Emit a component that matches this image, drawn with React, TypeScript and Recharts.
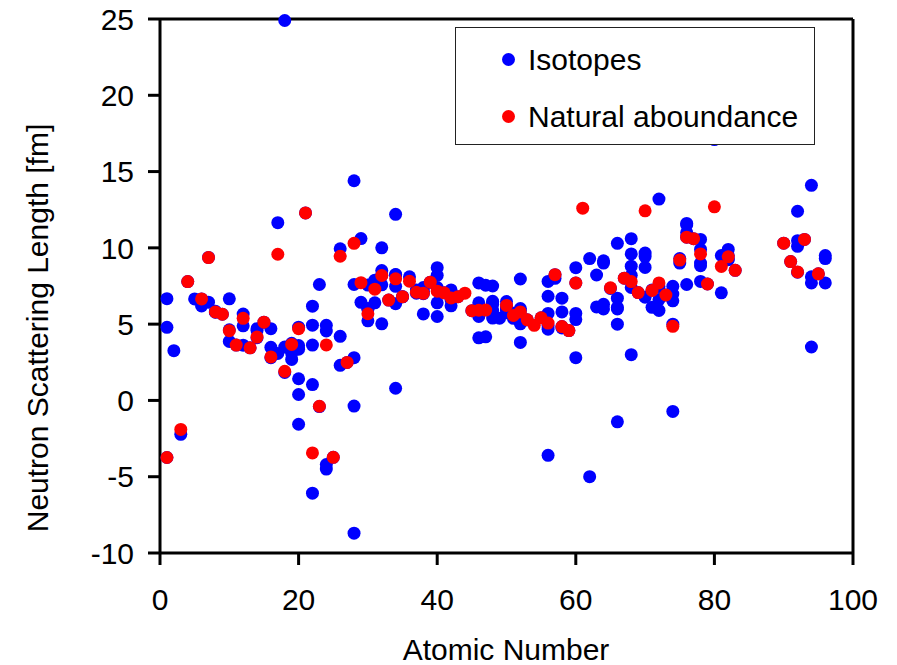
import React from "react";
import { ScatterChart, Scatter, XAxis, YAxis, Legend, ReferenceLine, Label } from "recharts";

// [atomic number, scattering length fm]
const isotopes: [number, number][] = [
  [1, -3.74], [1, 6.67], [1, 4.79], [2, 3.26], [3, -2.22], [4, 7.79], [5, 6.65],
  [6, 6.65], [6, 6.19], [7, 9.37], [7, 6.44], [8, 5.8], [8, 5.78], [8, 5.84], [9, 5.65],
  [10, 4.63], [10, 6.66], [10, 3.87], [11, 3.63], [12, 5.66], [12, 3.62], [12, 4.89],
  [13, 3.45], [14, 4.11], [14, 4.7], [14, 4.58], [15, 5.13], [16, 2.8], [16, 4.7], [16, 3.48],
  [17, 11.65], [17, 3.08], [18, 24.9], [18, 3.5], [18, 1.83], [19, 3.74], [19, 3.1], [19, 2.69],
  [20, 4.8], [20, 3.36], [20, -1.56], [20, 1.42], [20, 3.6], [20, 0.39], [21, 12.29],
  [22, 4.93], [22, 3.63], [22, -6.08], [22, 1.04], [22, 6.18], [23, 7.6], [23, -0.4],
  [24, -4.5], [24, 4.92], [24, -4.2], [24, 4.55], [25, -3.73], [26, 4.2], [26, 9.94], [26, 2.3],
  [27, 2.49], [28, 14.4], [28, 2.8], [28, 7.6], [28, -8.7], [28, -0.37], [29, 6.43], [29, 10.61],
  [30, 5.22], [30, 5.97], [30, 7.56], [30, 6.03], [31, 7.88], [31, 6.4],
  [32, 10.0], [32, 8.51], [32, 5.02], [32, 7.58], [32, 8.2], [33, 6.58],
  [34, 0.8], [34, 12.2], [34, 8.25], [34, 8.24], [34, 7.48], [34, 6.34], [35, 6.8], [35, 6.79],
  [36, 8.1], [37, 7.03], [37, 7.23], [38, 7.0], [38, 5.67], [38, 7.4], [38, 7.15], [39, 7.75],
  [40, 6.4], [40, 8.7], [40, 7.4], [40, 8.2], [40, 5.5], [41, 7.05],
  [42, 6.91], [42, 6.8], [42, 6.2], [42, 7.24], [42, 6.58], [42, 6.73], [43, 6.8], [45, 5.88],
  [46, 7.7], [46, 5.5], [46, 6.4], [46, 4.1], [47, 7.55], [47, 4.17],
  [48, 5.4], [48, 5.9], [48, 6.5], [48, 6.4], [48, 7.5], [48, 6.3], [49, 5.39],
  [50, 6.0], [50, 6.2], [50, 5.93], [50, 6.48], [50, 6.07], [50, 6.12], [50, 5.74],
  [51, 5.71], [51, 5.38], [52, 3.8], [52, 7.96], [52, 5.02], [52, 5.56], [52, 5.89], [52, 6.02],
  [53, 5.28], [55, 5.42], [56, -3.6], [56, 7.8], [56, 5.7], [56, 4.67], [56, 4.91], [56, 6.83],
  [57, 8.0], [57, 8.24], [58, 5.8], [58, 6.7], [58, 4.84], [58, 4.75], [59, 4.58],
  [60, 7.7], [60, 2.8], [60, 8.7], [60, 5.7], [60, 5.3], [62, -5.0], [62, 9.3],
  [63, 6.13], [63, 8.22], [64, 6.3], [64, 9.0], [64, 9.15], [64, 6.0], [65, 7.34],
  [66, 6.1], [66, 6.0], [66, 6.7], [66, 10.3], [66, -1.4], [66, 5.0], [67, 8.01],
  [68, 8.8], [68, 10.6], [68, 3.0], [68, 7.4], [68, 9.6], [68, 8.2], [69, 7.07],
  [70, 6.77], [70, 9.66], [70, 9.43], [70, 8.72], [71, 7.24], [71, 6.1],
  [72, 6.61], [72, 5.9], [72, 7.46], [72, 13.2], [73, 6.91],
  [74, 5.0], [74, 6.97], [74, 6.53], [74, 7.48], [74, -0.72], [75, 9.0], [75, 9.3],
  [76, 11.6], [76, 7.6], [76, 10.7], [76, 11.0], [76, 11.5], [77, 10.6],
  [78, 9.0], [78, 9.9], [78, 10.55], [78, 8.83], [78, 7.8], [79, 7.63], [80, 17.1],
  [81, 9.5], [81, 7.05], [82, 9.9], [82, 9.22], [82, 9.28], [82, 9.5], [83, 8.53],
  [90, 10.31], [91, 9.1], [92, 10.1], [92, 12.4], [92, 10.47], [92, 8.4], [93, 10.55],
  [94, 14.1], [94, 7.7], [94, 3.5], [94, 8.1], [95, 8.3], [96, 9.5], [96, 9.3], [96, 7.7],
];

const natural: [number, number][] = [
  [1, -3.74], [3, -1.9], [4, 7.79], [6, 6.65], [7, 9.36], [8, 5.8], [9, 5.65], [10, 4.57],
  [11, 3.63], [12, 5.38], [13, 3.45], [14, 4.15], [15, 5.13], [16, 2.85], [17, 9.58], [18, 1.91],
  [19, 3.67], [20, 4.7], [21, 12.29], [22, -3.44], [23, -0.38], [24, 3.64], [25, -3.73],
  [26, 9.45], [27, 2.49], [28, 10.3], [29, 7.72], [30, 5.68], [31, 7.29], [32, 8.19],
  [33, 6.58], [34, 7.97], [35, 6.8], [36, 7.81], [37, 7.09], [38, 7.02], [39, 7.75],
  [40, 7.16], [41, 7.05], [42, 6.72], [43, 6.8], [44, 7.03], [45, 5.88], [46, 5.91],
  [47, 5.92], [50, 6.23], [51, 5.57], [52, 5.8], [53, 5.28], [54, 4.92], [55, 5.42],
  [56, 5.07], [57, 8.24], [58, 4.84], [59, 4.58], [60, 7.69], [61, 12.6], [65, 7.38],
  [67, 8.01], [68, 7.79], [69, 7.07], [70, 12.43], [71, 7.21], [72, 7.7], [73, 6.91],
  [74, 4.86], [75, 9.2], [76, 10.7], [77, 10.6], [78, 9.6], [79, 7.63], [80, 12.69],
  [81, 8.78], [82, 9.41], [83, 8.53], [90, 10.31], [91, 9.1], [92, 8.42], [93, 10.55], [95, 8.3],
];

const xTicks = [0, 20, 40, 60, 80, 100];
const yTicks = [-10, -5, 0, 5, 10, 15, 20, 25];

const FONT = "'Liberation Sans', Arial, sans-serif";

const isoData = isotopes.map(([z, b]) => ({ z, b }));
const natData = natural.map(([z, b]) => ({ z, b }));

const dot = (color: string) => (p: any) => <circle cx={p.cx} cy={p.cy} r={6.5} fill={color} />;

function LegendBox() {
  const row = (color: string, text: string) => (
    <div style={{ display: "flex", alignItems: "center", height: 57 }}>
      <span style={{ width: 13, height: 13, borderRadius: "50%", background: color, marginLeft: 46, marginRight: 13 }} />
      <span>{text}</span>
    </div>
  );
  return (
    <div
      style={{
        width: 360, height: 118, boxSizing: "border-box", border: "1.5px solid #222",
        background: "#fff", fontFamily: FONT, fontSize: 30, color: "#000", paddingTop: 3,
      }}
    >
      {row("#0000ff", "Isotopes")}
      {row("#ff0000", "Natural aboundance")}
    </div>
  );
}

export default function App() {
  return (
    <div style={{ position: "absolute", left: 0, top: 0 }}>
      <ScatterChart width={897} height={665} margin={{ top: 19, right: 44, bottom: 0, left: 0 }}>
        <XAxis
          type="number" dataKey="z" domain={[0, 100]} ticks={xTicks} height={112}
          axisLine={{ stroke: "#000", strokeWidth: 3 }} tickLine={{ stroke: "#000", strokeWidth: 3 }}
          tickSize={12} tickMargin={24} tick={{ fill: "#000", fontSize: 30, fontFamily: FONT }}
        >
          <Label
            content={() => (
              <text x={506} y={660} textAnchor="middle" fontSize={30} fontFamily={FONT} fill="#000">
                Atomic Number
              </text>
            )}
          />
        </XAxis>
        <YAxis
          type="number" dataKey="b" domain={[-10, 25]} ticks={yTicks} width={160}
          axisLine={{ stroke: "#000", strokeWidth: 3 }} tickLine={{ stroke: "#000", strokeWidth: 3 }}
          tickSize={12} tickMargin={14} tick={{ fill: "#000", fontSize: 30, fontFamily: FONT }}
        >
          <Label
            content={() => (
              <text x={48} y={328} textAnchor="middle" fontSize={30} fontFamily={FONT} fill="#000"
                transform="rotate(-90, 48, 328)">
                Neutron Scattering Length [fm]
              </text>
            )}
          />
        </YAxis>
        <ReferenceLine y={25} stroke="#000" strokeWidth={3} />
        <ReferenceLine x={100} stroke="#000" strokeWidth={3} />
        <Scatter name="Isotopes" data={isoData} fill="#0000ff" shape={dot("#0000ff")} isAnimationActive={false} />
        <Scatter name="Natural aboundance" data={natData} fill="#ff0000" shape={dot("#ff0000")} isAnimationActive={false} />
        <Legend
          layout="horizontal" verticalAlign="middle" align="center"
          wrapperStyle={{ position: "absolute", left: 455, top: 27, width: 360, height: 118 }}
          content={() => <LegendBox />}
        />
      </ScatterChart>
    </div>
  );
}
